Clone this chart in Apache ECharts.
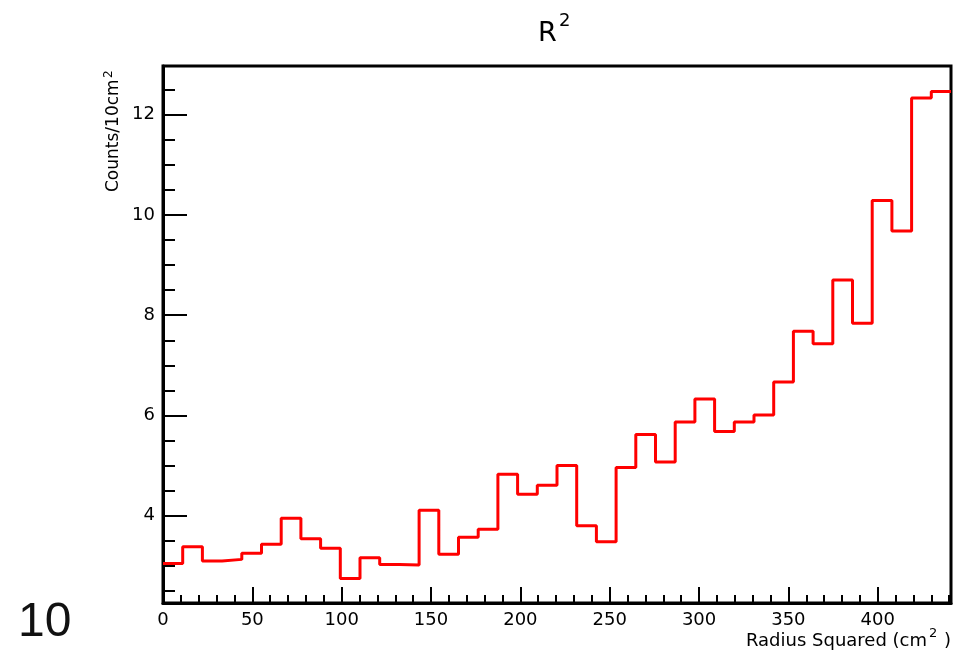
<!DOCTYPE html>
<html>
<head>
<meta charset="utf-8">
<script src="https://cdn.jsdelivr.net/npm/echarts@6/dist/echarts.min.js"></script>
<style>
  html, body { margin: 0; padding: 0; background: #fff; }
  #main { width: 954px; height: 652px; }
</style>
</head>
<body>
<div id="main"></div>
<script>
var myChart = echarts.init(document.getElementById('main'));

// histogram: 40 bins over 0..441
var binWidth = 11.025;
var xMax = 441;
var counts = [3.05, 3.38, 3.10, 3.13, 3.25, 3.43, 3.95, 3.54, 3.35, 2.75,
              3.16, 3.03, 3.02, 4.11, 3.23, 3.57, 3.73, 4.83, 4.43, 4.61,
              5.00, 3.80, 3.48, 4.96, 5.62, 5.07, 5.87, 6.33, 5.68, 5.87,
              6.01, 6.67, 7.68, 7.43, 8.70, 7.84, 10.29, 9.68, 12.33, 12.46];

var xMajorTicks = [0, 50, 100, 150, 200, 250, 300, 350, 400];
var xMinorTicks = [10, 20, 30, 40, 60, 70, 80, 90, 110, 120, 130, 140, 160, 170, 180, 190,
                   210, 220, 230, 240, 260, 270, 280, 290, 310, 320, 330, 340, 360, 370, 380, 390,
                   410, 420, 430, 440];
var yMajorTicks = [4, 6, 8, 10, 12];
var yMinorTicks = [2.5, 3, 3.5, 4.5, 5, 5.5, 6.5, 7, 7.5, 8.5, 9, 9.5, 10.5, 11, 11.5, 12.5];

var yMin = 2.26, yMax = 12.97;

// step line points at bin left edges, plus the closing edge
var steps = [];
for (var i = 0; i < counts.length; i++) {
    steps.push([i * binWidth, counts[i]]);
}
steps.push([xMax, counts[counts.length - 1]]);

var fam = "'DejaVu Sans', sans-serif";

function txt(s, x, y, size, align, rot) {
    var el = {
        type: 'text', x: x, y: y,
        style: { text: s, font: size + 'px ' + fam, fill: '#000',
                 align: align || 'left', verticalAlign: 'middle' }
    };
    if (rot) el.rotation = rot;
    return el;
}

var option = {
    animation: false,
    backgroundColor: '#fff',
    grid: {
        left: 163,
        right: 3,
        top: 66,
        bottom: 49,
        show: true,
        borderColor: '#000',
        borderWidth: 3,
        backgroundColor: 'transparent'
    },
    xAxis: [{
        type: 'value',
        min: 0,
        max: xMax,
        position: 'bottom',
        axisLine: { show: true, lineStyle: { color: '#000', width: 3 } },
        axisTick: { show: true, inside: true, length: 16, customValues: xMajorTicks,
                    lineStyle: { color: '#000', width: 2 } },
        axisLabel: { show: true, customValues: xMajorTicks, margin: 8,
                     color: '#000', fontSize: 18, fontFamily: 'DejaVu Sans' },
        splitLine: { show: false }
    }, {
        type: 'value',
        min: 0,
        max: xMax,
        position: 'bottom',
        axisLine: { show: false },
        axisTick: { show: true, inside: true, length: 8, customValues: xMinorTicks,
                    lineStyle: { color: '#000', width: 2 } },
        axisLabel: { show: false },
        splitLine: { show: false }
    }],
    yAxis: [{
        type: 'value',
        min: yMin,
        max: yMax,
        position: 'left',
        axisLine: { show: true, lineStyle: { color: '#000', width: 3 } },
        axisTick: { show: true, inside: true, length: 24, customValues: yMajorTicks,
                    lineStyle: { color: '#000', width: 2 } },
        axisLabel: { show: true, customValues: yMajorTicks, margin: 8,
                     color: '#000', fontSize: 18, fontFamily: 'DejaVu Sans' },
        splitLine: { show: false }
    }, {
        type: 'value',
        min: yMin,
        max: yMax,
        position: 'left',
        axisLine: { show: false },
        axisTick: { show: true, inside: true, length: 12, customValues: yMinorTicks,
                    lineStyle: { color: '#000', width: 2 } },
        axisLabel: { show: false },
        splitLine: { show: false }
    }],
    series: [{
        type: 'line',
        step: 'end',
        xAxisIndex: 0,
        yAxisIndex: 0,
        symbol: 'none',
        lineStyle: { color: '#ff0000', width: 3 },
        data: steps
    }],
    graphic: [
        // title R^2
        txt('R', 538, 34, 27),
        txt('2', 559, 21, 18),
        // x axis title
        txt('Radius Squared (cm', 927, 641, 18, 'right'),
        txt('2', 929, 634, 13),
        txt(')', 951, 641, 18, 'right'),
        // y axis title (rotated)
        txt('Counts/10cm', 114, 192, 17, 'left', Math.PI / 2),
        txt('2', 109, 78, 12, 'left', Math.PI / 2),
        // stray label at lower left
        { type: 'text', x: 18, y: 623, style: { text: '10', font: "48px 'Liberation Sans', sans-serif",
          fill: '#111', align: 'left', verticalAlign: 'middle' } }
    ]
};

myChart.setOption(option);
</script>
</body>
</html>
